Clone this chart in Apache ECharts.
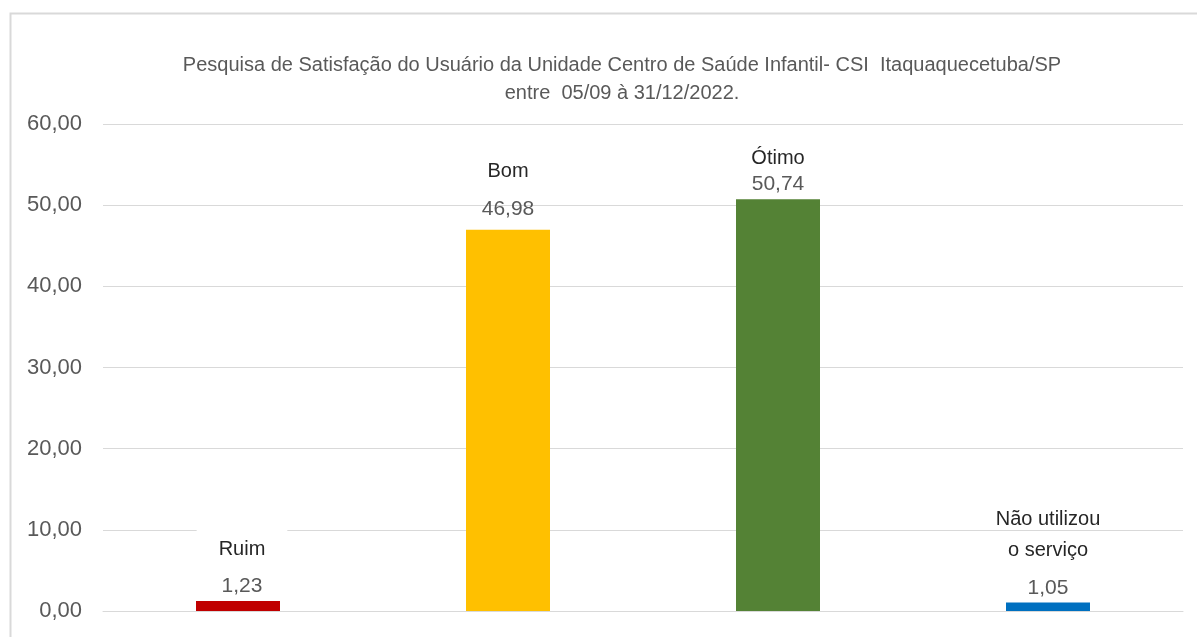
<!DOCTYPE html>
<html>
<head>
<meta charset="utf-8">
<script src="https://cdn.jsdelivr.net/npm/echarts@6/dist/echarts.min.js"></script>
<style>
  html, body { margin: 0; padding: 0; background: #ffffff; }
  #main { width: 1197px; height: 637px; }
</style>
</head>
<body>
<div id="main"></div>
<script>
  // dados
  var categorias = ['Ruim', 'Bom', 'Ótimo', 'Não utilizou\no serviço'];
  var valores = [1.23, 46.98, 50.74, 1.05];
  var cores = ['#c00000', '#ffc000', '#548235', '#0070c0'];
  var yTicks = [0, 10, 20, 30, 40, 50, 60];

  function virgula(v) {
    return Number(v).toFixed(2).replace('.', ',');
  }

  var fonte = 'Liberation Sans';
  // ajuste manual dos rótulos (como no Excel)
  var alturaNome = [46, 46, 22, 46];
  var distancia = [0, 5, 0, -1];

  var dados = valores.map(function (v, i) {
    var linhas = categorias[i].split('\n');
    var txt;
    if (linhas.length > 1) {
      txt = '{n1|' + linhas[0] + '}\n{n|' + linhas[1] + '}\n{v|' + virgula(v) + '}';
    } else {
      txt = '{n|' + linhas[0] + '}\n{v|' + virgula(v) + '}';
    }
    var lab = {
      show: true,
      position: 'top',
      distance: distancia[i],
      formatter: txt,
      rich: {
        n1: { fontFamily: fonte, fontSize: 20, color: '#262626', lineHeight: 16 },
        n: { fontFamily: fonte, fontSize: 20, color: '#262626', lineHeight: alturaNome[i] },
        v: { fontFamily: fonte, fontSize: 21, color: '#595959', lineHeight: 30 }
      }
    };
    if (i === 0) {
      lab.backgroundColor = '#ffffff';
      lab.padding = [0, 22];
      lab.offset = [4, 0];
      lab.rich.n.lineHeight = 44;
    }
    return { value: v, itemStyle: { color: cores[i] }, label: lab };
  });

  var myChart = echarts.init(document.getElementById('main'));
  var option = {
    animation: false,
    backgroundColor: '#ffffff',
    title: {
      text: 'Pesquisa de Satisfação do Usuário da Unidade Centro de Saúde Infantil- CSI  Itaquaquecetuba/SP\nentre  05/09 à 31/12/2022.',
      left: 622,
      top: 51,
      textAlign: 'center',
      padding: 0,
      textStyle: {
        fontFamily: fonte,
        fontSize: 20,
        fontWeight: 'normal',
        color: '#595959',
        lineHeight: 28
      }
    },
    graphic: [{
      type: 'rect',
      shape: { x: 10.5, y: 13.5, width: 1200, height: 700 },
      style: { fill: 'none', stroke: '#d9d9d9', lineWidth: 2 },
      silent: true
    }],
    grid: { left: 103, right: 14, top: 124, bottom: 26, containLabel: false },
    xAxis: {
      type: 'category',
      data: categorias,
      axisLine: { show: true, lineStyle: { color: '#d9d9d9' } },
      axisTick: { show: false },
      axisLabel: { show: false }
    },
    yAxis: {
      type: 'value',
      min: yTicks[0],
      max: yTicks[yTicks.length - 1],
      interval: 10,
      axisLine: { show: false },
      axisTick: { show: false },
      splitLine: { lineStyle: { color: '#d9d9d9', width: 1 } },
      axisLabel: {
        formatter: virgula,
        fontFamily: fonte,
        fontSize: 22,
        color: '#595959',
        margin: 21
      }
    },
    series: [{
      type: 'bar',
      barWidth: 84,
      data: dados
    }]
  };
  myChart.setOption(option);
</script>
</body>
</html>
